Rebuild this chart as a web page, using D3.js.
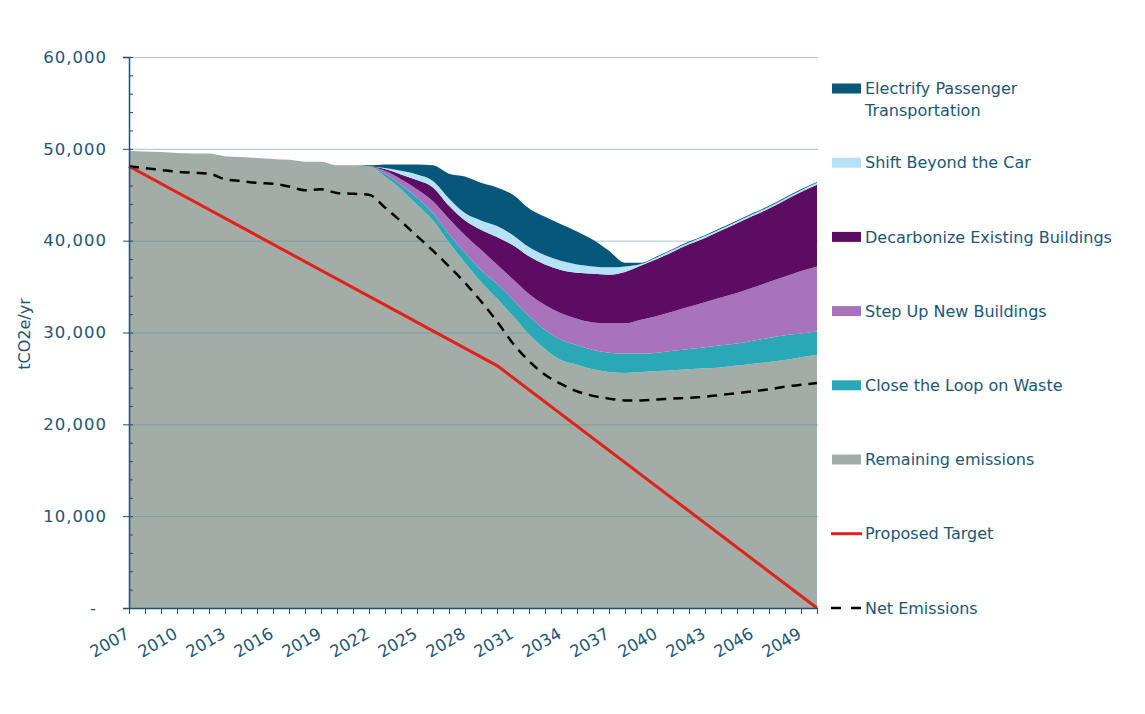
<!DOCTYPE html>
<html>
<head>
<meta charset="utf-8">
<script src="https://cdn.jsdelivr.net/npm/d3@7"></script>
<style>
  body { margin: 0; background: #fff; }
  svg text { font-family: "DejaVu Sans", sans-serif; fill: #1b5676; }
</style>
</head>
<body>
<svg id="chart" width="1145" height="714"></svg>
<script>
// Data (tCO2e/yr)
const years = [2007, 2008, 2009, 2010, 2011, 2012, 2013, 2014, 2015, 2016, 2017, 2018, 2019, 2020, 2021,
    2022, 2023, 2024, 2025, 2026, 2027, 2028, 2029, 2030, 2031, 2032, 2033, 2034, 2035, 2036,
    2037, 2038, 2039, 2040, 2041, 2042, 2043, 2044, 2045, 2046, 2047, 2048, 2049, 2050];

const remaining = [49800, 49700, 49650, 49550, 49500, 49500, 49200, 49100, 49000, 48900, 48800, 48600, 48600, 48200, 48200,
    48100, 47000, 45600, 43900, 42200, 39800, 37600, 35500, 33700, 31800, 29800, 28200, 27000, 26500, 26000,
    25700, 25600, 25700, 25800, 25900, 26000, 26100, 26200, 26400, 26600, 26800, 27000, 27300, 27550];
const waste = [0, 0, 0, 0, 0, 0, 0, 0, 0, 0, 0, 0, 0, 0, 0,
    0, 300, 500, 800, 800, 900, 1100, 1300, 1600, 1800, 2000, 2100, 2200, 2100, 2100,
    2100, 2100, 2000, 2000, 2100, 2200, 2300, 2400, 2400, 2500, 2600, 2700, 2600, 2550];
const newBuildings = [0, 0, 0, 0, 0, 0, 0, 0, 0, 0, 0, 0, 0, 0, 0,
    0, 300, 600, 900, 1300, 1700, 1900, 2200, 2100, 2200, 2400, 2700, 2900, 2900, 3000,
    3200, 3300, 3700, 4000, 4300, 4600, 4900, 5200, 5500, 5800, 6100, 6400, 6800, 7100];
const existingBuildings = [0, 0, 0, 0, 0, 0, 0, 0, 0, 0, 0, 0, 0, 0, 0,
    0, 200, 500, 1000, 1500, 1400, 1600, 2200, 3000, 3700, 4100, 4400, 4700, 5000, 5300,
    5300, 5600, 5900, 6200, 6500, 6800, 7000, 7300, 7600, 7800, 8000, 8300, 8600, 8900];
const shiftCar = [0, 0, 0, 0, 0, 0, 0, 0, 0, 0, 0, 0, 0, 0, 0,
    0, 100, 400, 600, 700, 800, 800, 1000, 1200, 1100, 1000, 1000, 1000, 900, 800,
    800, 600, 150, 200, 200, 200, 200, 200, 200, 200, 200, 200, 200, 200];
const electrify = [0, 0, 0, 0, 0, 0, 0, 0, 0, 0, 0, 0, 0, 0, 0,
    100, 400, 700, 1100, 1700, 2700, 4000, 4100, 4200, 4400, 4200, 4200, 4000, 3600, 2900,
    1800, 400, 150, 100, 100, 100, 100, 100, 100, 100, 100, 100, 100, 100];

const netEmissions = [48100, 47900, 47700, 47500, 47400, 47300, 46700, 46500, 46300, 46200, 45900, 45500, 45600, 45200, 45100,
    45000, 43600, 42100, 40500, 38900, 37200, 35400, 33400, 31200, 28800, 26900, 25400, 24400, 23600, 23100,
    22800, 22600, 22600, 22700, 22800, 22900, 23000, 23200, 23400, 23600, 23800, 24100, 24300, 24500];

const targetYears = [2007, 2030, 2050];
const targetValues = [48100, 26400, 0];

const yTicks = [0, 10000, 20000, 30000, 40000, 50000, 60000];

const layers = [
    {key: "remaining", name: "Remaining emissions", color: "#a3ada7", values: remaining},
    {key: "waste", name: "Close the Loop on Waste", color: "#2aa8b7", values: waste},
    {key: "newb", name: "Step Up New Buildings", color: "#a972bd", values: newBuildings},
    {key: "exist", name: "Decarbonize Existing Buildings", color: "#5c0c62", values: existingBuildings},
    {key: "shift", name: "Shift Beyond the Car", color: "#b5e3f5", values: shiftCar},
    {key: "elec", name: "Electrify Passenger Transportation", color: "#07577b", values: electrify}
];

const axisColor = "#1d4f6e";

// Build table for d3.stack
const table = years.map(function(yr, i) {
    const row = {year: yr};
    layers.forEach(function(l) { row[l.key] = l.values[i]; });
    return row;
});

const svg = d3.select("#chart");
const margin = {left: 129, right: 328, top: 57, bottom: 106};
const width = 1145 - margin.left - margin.right;
const height = 714 - margin.top - margin.bottom;

const x = d3.scaleLinear().domain([2007, 2050]).range([margin.left, margin.left + width]);
const y = d3.scaleLinear().domain([0, 60000]).range([margin.top + height, margin.top]);

const stack = d3.stack().keys(layers.map(function(l) { return l.key; }));
const series = stack(table);

const area = d3.area()
    .x(function(d) { return x(d.data.year); })
    .y0(function(d) { return y(d[0]); })
    .y1(function(d) { return y(d[1]); })
    .curve(d3.curveMonotoneX);

// Remaining emissions first, then grid, then the wedges on top
svg.append("path")
    .datum(series[0])
    .attr("d", area)
    .attr("fill", layers[0].color);

svg.append("g")
    .selectAll("line")
    .data(yTicks.filter(function(t) { return t > 0; }))
    .join("line")
    .attr("x1", x(2007))
    .attr("x2", x(2050) + 1)
    .attr("y1", function(d) { return y(d) + 0.5; })
    .attr("y2", function(d) { return y(d) + 0.5; })
    .attr("stroke", "#5f8ea8")
    .attr("stroke-opacity", 0.55)
    .attr("stroke-width", 1);

svg.append("g")
    .selectAll("path")
    .data(series.slice(1))
    .join("path")
    .attr("d", area)
    .attr("fill", function(d, i) { return layers[i + 1].color; });

// Proposed target
const line = d3.line()
    .x(function(d) { return x(d[0]); })
    .y(function(d) { return y(d[1]); });

svg.append("path")
    .datum(targetYears.map(function(yr, i) { return [yr, targetValues[i]]; }))
    .attr("d", line)
    .attr("fill", "none")
    .attr("stroke", "#e3211b")
    .attr("stroke-width", 3);

// Net emissions
svg.append("path")
    .datum(years.map(function(yr, i) { return [yr, netEmissions[i]]; }))
    .attr("d", line.curve(d3.curveMonotoneX))
    .attr("fill", "none")
    .attr("stroke", "#000")
    .attr("stroke-width", 2.5)
    .attr("stroke-dasharray", "10,7");

// Y axis: minor ticks inside, majors with labels
const yMinor = svg.append("g")
    .attr("transform", `translate(${margin.left},0)`)
    .call(d3.axisRight(y).ticks(30).tickSize(4).tickFormat(""));
yMinor.select(".domain").remove();
yMinor.selectAll("line").attr("stroke", axisColor);

const yAxis = svg.append("g")
    .attr("transform", `translate(${margin.left},0)`)
    .call(d3.axisLeft(y)
        .tickValues(yTicks)
        .tickSize(6)
        .tickPadding(16)
        .tickFormat(function(d) { return d === 0 ? "-" : d3.format(",")(d); }));
yAxis.select(".domain").attr("stroke", axisColor).attr("stroke-width", 1.5);
yAxis.selectAll("line").attr("stroke", axisColor);
yAxis.selectAll("text")
    .style("font-size", "16.5px")
    .style("letter-spacing", "1px")
    .style("font-family", "DejaVu Sans, sans-serif")
    .attr("fill", "#1b5676");
yAxis.selectAll(".tick").filter(function(d) { return d === 0; }).select("text").attr("x", -32);

// X axis
const xAxis = svg.append("g")
    .attr("transform", `translate(0,${margin.top + height})`)
    .call(d3.axisBottom(x)
        .tickValues(years)
        .tickSize(6)
        .tickSizeOuter(0)
        .tickFormat(function(d) { return (d - 2007) % 3 === 0 && d < 2050 ? d : ""; }));
xAxis.select(".domain").attr("stroke", axisColor).attr("stroke-width", 1.5);
xAxis.selectAll("line").attr("stroke", axisColor);
xAxis.selectAll("text")
    .attr("y", 0)
    .attr("dy", 0)
    .attr("text-anchor", "end")
    .attr("transform", "translate(1,29) rotate(-30)")
    .style("font-size", "16.5px")
    .style("font-family", "DejaVu Sans, sans-serif")
    .attr("fill", "#1b5676");

// Y title
svg.append("text")
    .attr("transform", "translate(30,334) rotate(-90)")
    .attr("text-anchor", "middle")
    .style("font-size", "16px")
    .text("tCO2e/yr");

// Legend
const legendItems = layers.slice().reverse().map(function(l) {
    return {name: l.name, color: l.color, type: "area"};
});
legendItems.push({name: "Proposed Target", color: "#e3211b", type: "line"});
legendItems.push({name: "Net Emissions", color: "#000", type: "dash"});

const legend = svg.append("g").attr("transform", "translate(832,0)");
legendItems.forEach(function(item, i) {
    const cy = 88.5 + i * 74.2;
    const g = legend.append("g").attr("transform", `translate(0,${cy})`);
    if (item.type === "area") {
        g.append("rect").attr("x", 0).attr("y", -5).attr("width", 29).attr("height", 10).attr("fill", item.color);
    } else {
        g.append("line").attr("x1", -1).attr("x2", 30).attr("y1", 0).attr("y2", 0)
            .attr("stroke", item.color).attr("stroke-width", item.type === "line" ? 3 : 2.5)
            .attr("stroke-dasharray", item.type === "dash" ? "10,10" : null);
    }
    const t = g.append("text").attr("x", 33).attr("y", 0).attr("dy", "0.36em").style("font-size", "16px");
    if (item.name === "Electrify Passenger Transportation") {
        t.append("tspan").attr("x", 33).text("Electrify Passenger");
        t.append("tspan").attr("x", 33).attr("dy", 22).text("Transportation");
    } else {
        t.text(item.name);
    }
});
</script>
</body>
</html>
